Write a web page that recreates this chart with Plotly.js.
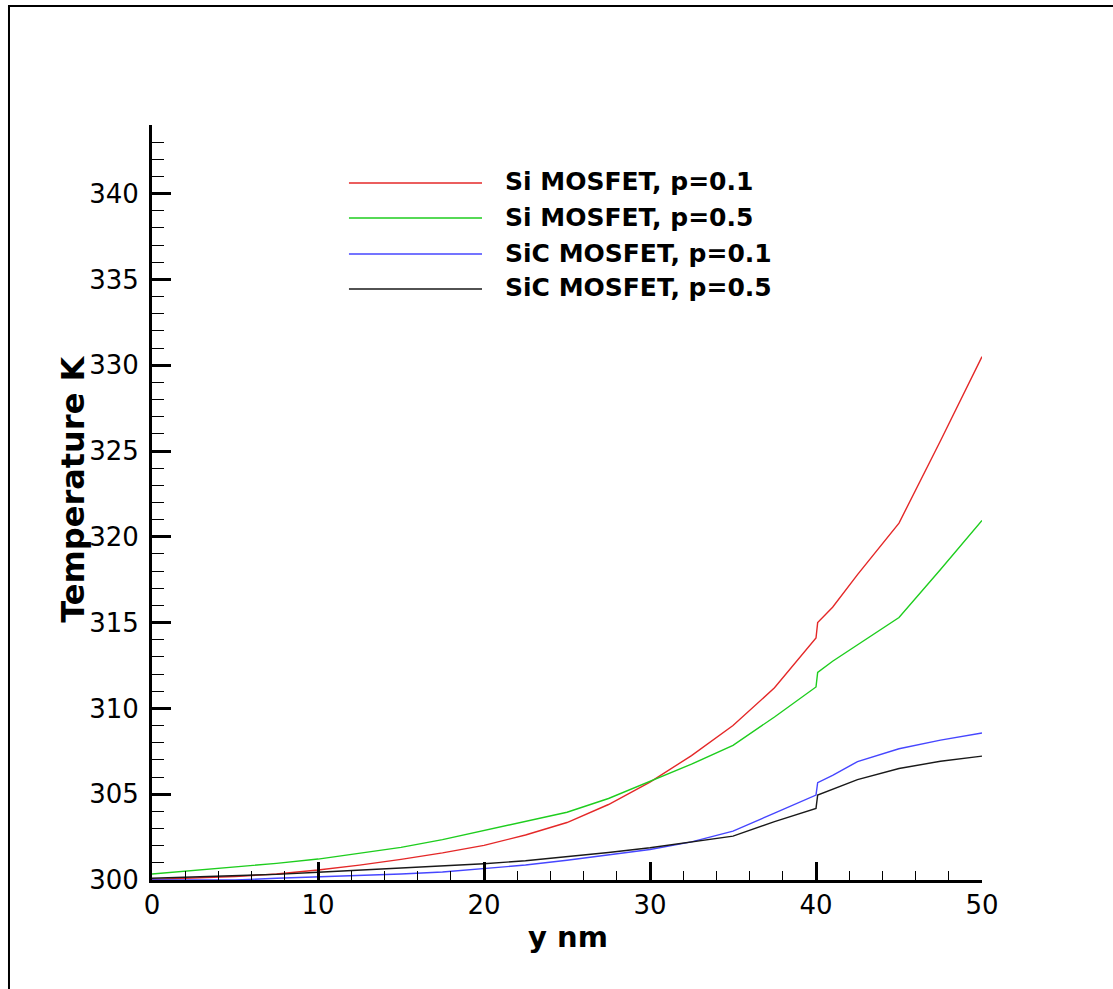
<!DOCTYPE html>
<html>
<head>
<meta charset="utf-8">
<script src="https://cdn.plot.ly/plotly-3.0.1.min.js"></script>
<style>
html,body{margin:0;padding:0;background:#fff;}
#chart{width:1113px;height:989px;}
</style>
</head>
<body>
<div id="chart"></div>
<script>
// ---- data ----
var yNm = [0, 2.5, 5, 7.5, 10, 12.5, 15, 17.5, 20, 22.5, 25, 27.5, 30, 32.5, 35, 37.5, 40, 40.1, 41, 42.5, 45, 47.5, 50];

var siP01 = [300.03, 300.10, 300.20, 300.35, 300.58, 300.87, 301.20, 301.58, 302.02, 302.62, 303.35, 304.40, 305.70, 307.25, 309.00, 311.20, 314.10, 315.00, 315.90, 317.80, 320.80, 325.60, 330.50];
var siP05 = [300.35, 300.55, 300.74, 300.97, 301.22, 301.55, 301.90, 302.35, 302.88, 303.38, 303.95, 304.75, 305.75, 306.75, 307.85, 309.50, 311.25, 312.10, 312.75, 313.70, 315.30, 318.10, 320.95];
var sicP01 = [300.00, 300.00, 300.00, 300.10, 300.18, 300.27, 300.35, 300.47, 300.66, 300.87, 301.15, 301.45, 301.78, 302.22, 302.85, 303.90, 304.95, 305.67, 306.10, 306.90, 307.65, 308.15, 308.57];
var sicP05 = [300.10, 300.17, 300.22, 300.33, 300.45, 300.57, 300.68, 300.80, 300.95, 301.12, 301.35, 301.60, 301.88, 302.20, 302.56, 303.40, 304.17, 304.95, 305.30, 305.85, 306.50, 306.92, 307.22];

var seriesNames = ["Si MOSFET, p=0.1", "Si MOSFET, p=0.5", "SiC MOSFET, p=0.1", "SiC MOSFET, p=0.5"];
var xTitle = "y nm";
var yTitle = "Temperature K";

// ---- styles ----
var seriesData = [siP01, siP05, sicP01, sicP05];
var colors = ["rgb(228,40,40)", "rgb(30,205,30)", "rgb(70,70,255)", "rgb(25,25,25)"];

var traces = seriesData.map(function (vals, i) {
  return {
    x: yNm, y: vals, type: "scatter", mode: "lines", name: seriesNames[i],
    line: {color: colors[i], width: 1.4, shape: "linear"}, showlegend: false, hoverinfo: "skip"
  };
});

// legend drawn manually (long sample lines)
var legRowsY = [0.9232, 0.8768, 0.8291, 0.7828];
var shapes = [];
var annotations = [];
seriesNames.forEach(function (nm, i) {
  shapes.push({type: "line", xref: "paper", yref: "paper", x0: 0.2373, x1: 0.3976,
    y0: legRowsY[i], y1: legRowsY[i], line: {color: colors[i], width: 1.4}});
  annotations.push({xref: "paper", yref: "paper", x: 0.4229, y: legRowsY[i],
    xanchor: "left", yanchor: "middle", showarrow: false, text: "<b>" + nm + "</b>", yshift: 1,
    font: {family: "DejaVu Sans", size: 25, color: "#000"}});
});
// axis titles
annotations.push({xref: "paper", yref: "paper", x: 0.5012, y: -0.075, xanchor: "center", yanchor: "middle",
  showarrow: false, text: "<b>" + xTitle + "</b>", font: {family: "DejaVu Sans", size: 29, color: "#000"}});
annotations.push({xref: "paper", yref: "paper", x: -0.095, y: 0.517, xanchor: "center", yanchor: "middle",
  textangle: -90, showarrow: false, text: "<b>" + yTitle + "</b>", font: {family: "DejaVu Sans", size: 32, color: "#000"}});

// page frame (left and top edges)
shapes.push({type: "line", xref: "paper", yref: "paper", x0: -0.1723, x1: -0.1723, y0: 1.1576, y1: -0.15,
  line: {color: "#000", width: 2}});
shapes.push({type: "line", xref: "paper", yref: "paper", x0: -0.1735, x1: 1.2, y0: 1.1576, y1: 1.1576,
  line: {color: "#000", width: 2}});

var layout = {
  width: 1113, height: 989,
  margin: {l: 152, r: 131, t: 125, b: 109},
  paper_bgcolor: "#fff", plot_bgcolor: "#fff",
  showlegend: false,
  font: {family: "DejaVu Sans", color: "#000"},
  xaxis: {
    range: [0, 50], dtick: 10, tick0: 0, showgrid: false, zeroline: false,
    showline: true, linecolor: "#000", linewidth: 3,
    ticks: "inside", ticklen: 18, tickwidth: 3, tickcolor: "#000",
    minor: {dtick: 2, ticks: "inside", ticklen: 9, tickwidth: 1, tickcolor: "#000", showgrid: false},
    tickfont: {family: "DejaVu Sans", size: 26, color: "#000"},
    ticklabelstandoff: 0, title: {text: ""}, fixedrange: true
  },
  yaxis: {
    range: [300, 344], dtick: 5, tick0: 300, showgrid: false, zeroline: false,
    showline: true, linecolor: "#000", linewidth: 3,
    ticks: "inside", ticklen: 19, tickwidth: 3, tickcolor: "#000",
    minor: {dtick: 1, ticks: "inside", ticklen: 12, tickwidth: 1, tickcolor: "#000", showgrid: false},
    tickfont: {family: "DejaVu Sans", size: 26, color: "#000"},
    ticklabelstandoff: 5, title: {text: ""}, fixedrange: true
  },
  shapes: shapes,
  annotations: annotations
};

Plotly.newPlot("chart", traces, layout, {displayModeBar: false, staticPlot: true});
</script>
</body>
</html>
